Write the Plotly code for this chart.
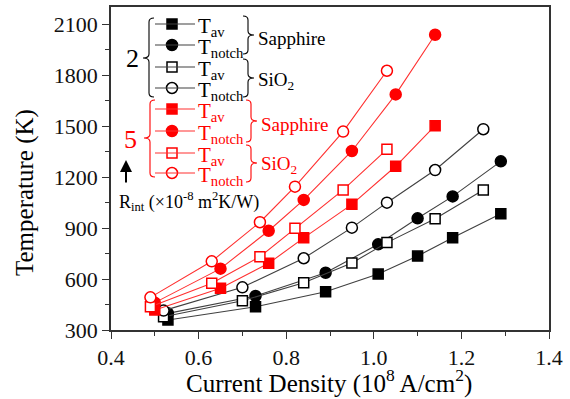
import plotly.graph_objects as go

# ---------------- data ----------------
x_b_sapph = [0.53, 0.73, 0.89, 1.01, 1.10, 1.18, 1.29]
tav_b_sapph = [359, 437, 525, 629, 735, 843, 984]
tnotch_b_sapph = [398, 500, 637, 804, 957, 1086, 1292]

x_b_sio2 = [0.52, 0.70, 0.84, 0.95, 1.03, 1.14, 1.25]
tav_b_sio2 = [378, 472, 578, 694, 814, 955, 1124]
tnotch_b_sio2 = [414, 551, 722, 902, 1049, 1241, 1481]

x_r_sapph = [0.50, 0.65, 0.76, 0.84, 0.95, 1.05, 1.14]
tav_r_sapph = [418, 545, 692, 842, 1039, 1263, 1502]
tnotch_r_sapph = [461, 661, 884, 1065, 1353, 1686, 2037]

x_r_sio2 = [0.49, 0.63, 0.74, 0.82, 0.93, 1.03]
tav_r_sio2 = [437, 575, 731, 898, 1124, 1363]
tnotch_r_sio2 = [492, 704, 934, 1143, 1467, 1825]

x_ticks = [0.4, 0.6, 0.8, 1.0, 1.2, 1.4]
y_ticks = [300, 600, 900, 1200, 1500, 1800, 2100]

BLACK = "#000000"
BLINE = "#404040"
RED = "#ff0000"
RLINE = "#ff3030"
FONT = "Times New Roman, Liberation Serif, serif"

# plot area in pixels
L, R, T, B = 111, 549, 7, 330
W, H = 570, 399

fig = go.Figure()

def add_series(x, y, symbol, color, lcolor, filled):
    fig.add_trace(go.Scatter(
        x=x, y=y, mode="lines+markers",
        line=dict(color=lcolor, width=1.1),
        marker=dict(symbol=symbol, size=10 if symbol == "square" else 11,
                    color=color if filled else "white",
                    line=dict(color=color, width=1.5)),
        showlegend=False, cliponaxis=False))

add_series(x_b_sapph, tav_b_sapph, "square", BLACK, BLINE, True)
add_series(x_b_sapph, tnotch_b_sapph, "circle", BLACK, BLINE, True)
add_series(x_b_sio2, tav_b_sio2, "square", BLACK, BLINE, False)
add_series(x_b_sio2, tnotch_b_sio2, "circle", BLACK, BLINE, False)
add_series(x_r_sapph, tav_r_sapph, "square", RED, RLINE, True)
add_series(x_r_sapph, tnotch_r_sapph, "circle", RED, RLINE, True)
add_series(x_r_sio2, tav_r_sio2, "square", RED, RLINE, False)
add_series(x_r_sio2, tnotch_r_sio2, "circle", RED, RLINE, False)

# ---------------- custom legend (pixel overlay axes) ----------------
rows = [
    (24, "square", BLACK, True, "T<sub>av</sub>"),
    (45, "circle", BLACK, True, "T<sub>notch</sub>"),
    (67, "square", BLACK, False, "T<sub>av</sub>"),
    (88, "circle", BLACK, False, "T<sub>notch</sub>"),
    (109, "square", RED, True, "T<sub>av</sub>"),
    (131, "circle", RED, True, "T<sub>notch</sub>"),
    (153, "square", RED, False, "T<sub>av</sub>"),
    (173, "circle", RED, False, "T<sub>notch</sub>"),
]
shapes = []
annotations = []
for yy, sym, col, filled, label in rows:
    lc = BLINE if col == BLACK else RLINE
    shapes.append(dict(type="line", xref="x2", yref="y2", x0=155, x1=195,
                       y0=yy, y1=yy, line=dict(color=lc, width=1.1)))
    fig.add_trace(go.Scatter(
        x=[172], y=[yy], xaxis="x2", yaxis="y2", mode="markers",
        marker=dict(symbol=sym, size=10 if sym == "square" else 11,
                    color=col if filled else "white",
                    line=dict(color=col, width=1.5)),
        showlegend=False, hoverinfo="skip"))
    annotations.append(dict(xref="x2", yref="y2", x=196, y=yy + 3,
                            xanchor="left", yanchor="middle", showarrow=False,
                            text=label, font=dict(family=FONT, size=21, color=col)))

def left_brace(xc, y0, y1, ytip, w=5, tip=6, color=BLACK):
    r = 4
    p = (f"M {xc+w},{y0} Q {xc},{y0} {xc},{y0+r} L {xc},{ytip-r} "
         f"Q {xc},{ytip} {xc-tip},{ytip} Q {xc},{ytip} {xc},{ytip+r} "
         f"L {xc},{y1-r} Q {xc},{y1} {xc+w},{y1}")
    return dict(type="path", xref="x2", yref="y2", path=p,
                line=dict(color=color, width=1.1))

def right_brace(xc, y0, y1, ytip, w=5, tip=6, color=BLACK):
    r = 4
    p = (f"M {xc-w},{y0} Q {xc},{y0} {xc},{y0+r} L {xc},{ytip-r} "
         f"Q {xc},{ytip} {xc+tip},{ytip} Q {xc},{ytip} {xc},{ytip+r} "
         f"L {xc},{y1-r} Q {xc},{y1} {xc-w},{y1}")
    return dict(type="path", xref="x2", yref="y2", path=p,
                line=dict(color=color, width=1.1))

shapes.append(left_brace(149, 18, 97, 58, color=BLACK))
shapes.append(left_brace(150, 100, 177, 138, color=RED))
shapes.append(right_brace(248, 16, 54, 35, color=BLACK))
shapes.append(right_brace(248, 59, 97, 78, color=BLACK))
shapes.append(right_brace(251, 100, 142, 121, color=RED))
shapes.append(right_brace(251, 145, 182, 163, color=RED))

def txt(x, y, s, col, size, xanchor="left"):
    annotations.append(dict(xref="x2", yref="y2", x=x, y=y, text=s,
                            xanchor=xanchor, yanchor="middle", showarrow=False,
                            font=dict(family=FONT, size=size, color=col)))

def ptxt(px, py, s, col, size, angle=0):
    # place by absolute pixel using paper coords
    annotations.append(dict(xref="paper", yref="paper",
                            x=(px - L) / (R - L), y=(B - py) / (B - T), text=s,
                            xanchor="center", yanchor="middle", showarrow=False,
                            textangle=angle,
                            font=dict(family=FONT, size=size, color=col)))

txt(132, 58, "2", BLACK, 26, "center")
txt(130, 139, "5", RED, 26, "center")
txt(256, 38, "Sapphire", BLACK, 19)
txt(256, 81, "SiO<sub>2</sub>", BLACK, 19)
txt(259, 124, "Sapphire", RED, 19)
txt(259, 165, "SiO<sub>2</sub>", RED, 19)
txt(117, 201, "R<sub>int</sub> (×10<sup>-8</sup> m<sup>2</sup>K/W)", BLACK, 18)
# axis titles
ptxt(25, 193, "Temperature (K)", BLACK, 25, -90)
ptxt(329, 381, "Current Density (10<sup>8</sup> A/cm<sup>2</sup>)", BLACK, 25)

annotations.append(dict(xref="x2", yref="y2", x=126, y=160, ax=126, ay=184,
                        axref="x2", ayref="y2", showarrow=True, text="",
                        arrowhead=2, arrowsize=1.2, arrowwidth=2,
                        arrowcolor=BLACK))

axis_common = dict(showline=True, linecolor="#333333", linewidth=1.5,
                   mirror=True, ticks="outside", tickcolor="#333333",
                   showgrid=False, zeroline=False, automargin=False,
                   tickfont=dict(family=FONT, size=22, color="#111111"))

fig.update_layout(
    width=W, height=H,
    margin=dict(l=L, r=W - R, t=T, b=H - B, autoexpand=False),
    paper_bgcolor="white", plot_bgcolor="white",
    xaxis=dict(range=[0.4, 1.4], tickvals=x_ticks,
               ticktext=[f"{v:.1f}" for v in x_ticks], ticklen=7, tickwidth=1.2,
               minor=dict(dtick=0.1, ticklen=4, ticks="outside", tickcolor="#333333"),
               **axis_common),
    yaxis=dict(range=[300, 2200], tickvals=y_ticks, ticklen=7, tickwidth=1.2,
               minor=dict(dtick=150, tick0=300, ticklen=4, ticks="outside",
                          tickcolor="#333333"),
               **axis_common),
    xaxis2=dict(range=[L, R], overlaying="x", visible=False, anchor="y2"),
    yaxis2=dict(range=[B, T], overlaying="y", visible=False, anchor="x2"),
    shapes=shapes, annotations=annotations,
)

fig.write_html("out.html", config={"displayModeBar": False},
               post_script="document.body.style.margin='0';document.body.style.padding='0';")
